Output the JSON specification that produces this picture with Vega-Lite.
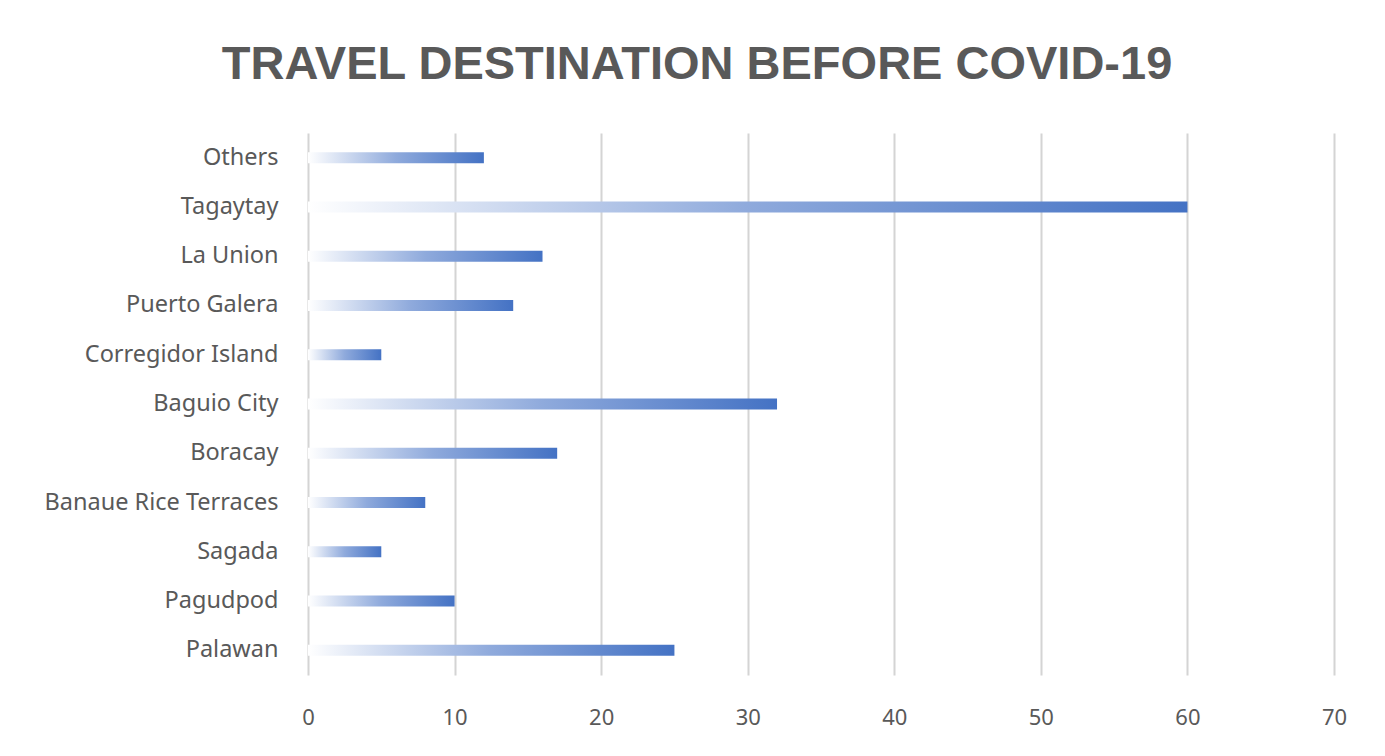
{
  "$schema": "https://vega.github.io/schema/vega-lite/v6.json",
  "autosize": "none",
  "width": 1026,
  "height": 542,
  "padding": {"left": 308, "top": 133, "right": 51, "bottom": 81},
  "background": "white",
  "title": {
    "text": "TRAVEL DESTINATION BEFORE COVID-19",
    "font": "Liberation Sans",
    "fontSize": 47,
    "fontWeight": "bold",
    "color": "#595959",
    "anchor": "middle",
    "dx": -124,
    "offset": 44
  },
  "data": {
    "values": [
      {"destination": "Others", "count": 12},
      {"destination": "Tagaytay", "count": 60},
      {"destination": "La Union", "count": 16},
      {"destination": "Puerto Galera", "count": 14},
      {"destination": "Corregidor Island", "count": 5},
      {"destination": "Baguio City", "count": 32},
      {"destination": "Boracay", "count": 17},
      {"destination": "Banaue Rice Terraces", "count": 8},
      {"destination": "Sagada", "count": 5},
      {"destination": "Pagudpod", "count": 10},
      {"destination": "Palawan", "count": 25}
    ]
  },
  "mark": {
    "type": "bar",
    "size": 11,
    "color": {
      "gradient": "linear",
      "x1": 0, "x2": 1, "y1": 0, "y2": 0,
      "stops": [
        {"offset": 0, "color": "#ffffff"},
        {"offset": 0.5, "color": "#8faadc"},
        {"offset": 1, "color": "#4472c4"}
      ]
    }
  },
  "encoding": {
    "y": {
      "field": "destination",
      "type": "nominal",
      "sort": null,
      "scale": {"paddingInner": 0, "paddingOuter": 0},
      "axis": {
        "title": null,
        "ticks": false,
        "domain": false,
        "labelFont": "Noto Sans",
        "labelFontSize": 23.5,
        "labelColor": "#595959",
        "labelPadding": 30,
        "labelLimit": 400
      }
    },
    "x": {
      "field": "count",
      "type": "quantitative",
      "scale": {"domain": [0, 70], "nice": false},
      "axis": {
        "title": null,
        "values": [0, 10, 20, 30, 40, 50, 60, 70],
        "ticks": false,
        "domain": false,
        "grid": true,
        "gridColor": "#d4d4d4",
        "gridWidth": 2,
        "labelFlush": false,
        "labelFont": "Noto Sans",
        "labelFontSize": 22,
        "labelColor": "#595959",
        "labelPadding": 32
      }
    }
  },
  "config": {
    "view": {"stroke": null}
  }
}
